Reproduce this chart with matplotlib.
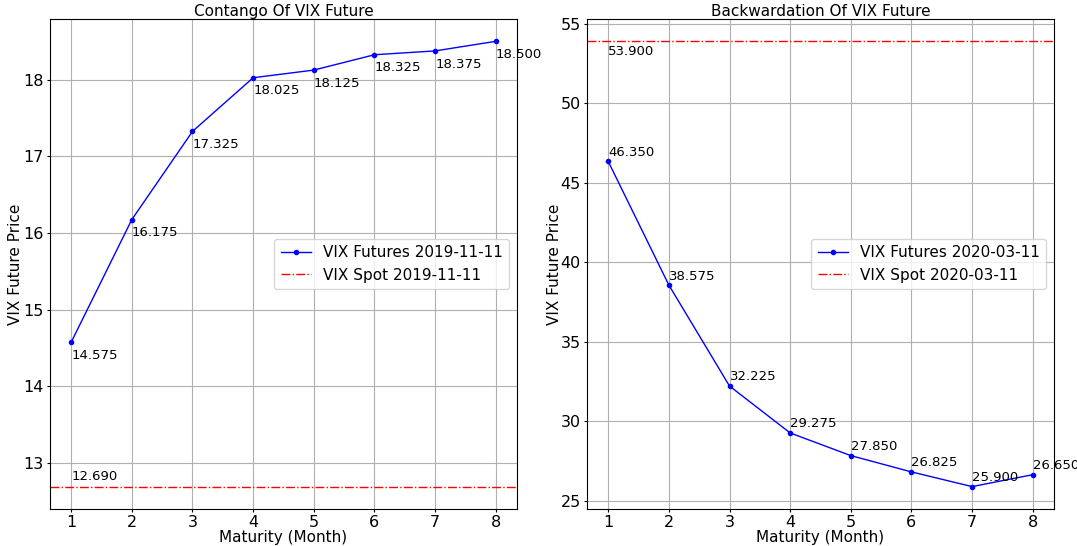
import matplotlib
matplotlib.use("Agg")
import matplotlib.pyplot as plt

maturity = [1, 2, 3, 4, 5, 6, 7, 8]
contango = [14.575, 16.175, 17.325, 18.025, 18.125, 18.325, 18.375, 18.500]
backward = [46.350, 38.575, 32.225, 29.275, 27.850, 26.825, 25.900, 26.650]
spot_contango = 12.690
spot_backward = 53.900

fig, axes = plt.subplots(1, 2, figsize=(10.77, 5.46), dpi=100)

ax = axes[0]
ax.plot(maturity, contango, 'b.-', lw=1, ms=6, label='VIX Futures 2019-11-11')
ax.axhline(spot_contango, color='red', ls='-.', lw=1, label='VIX Spot 2019-11-11')
for x, y in zip(maturity, contango):
    ax.annotate(f'{y:.3f}', (x, y), xytext=(0, -12), textcoords='offset points', fontsize=9.5)
ax.annotate(f'{spot_contango:.3f}', (1, spot_contango), xytext=(0, 5), textcoords='offset points', fontsize=9.5)
ax.set_title('Contango Of VIX Future', fontsize=11, pad=2)
ax.set_xlabel('Maturity (Month)', fontsize=11, labelpad=0)
ax.set_ylabel('VIX Future Price', fontsize=11)
ax.yaxis.set_label_coords(-0.058, 0.5)
ax.set_ylim(min(contango + [spot_contango]) - 0.29, max(contango) + 0.29)
ax.set_xticks(maturity)
ax.tick_params(labelsize=11.5, pad=2, length=2.5)
ax.grid(True)
ax.legend(loc='center right', fontsize=11)

ax = axes[1]
ax.plot(maturity, backward, 'b.-', lw=1, ms=6, label='VIX Futures 2020-03-11')
ax.axhline(spot_backward, color='red', ls='-.', lw=1, label='VIX Spot 2020-03-11')
for x, y in zip(maturity, backward):
    ax.annotate(f'{y:.3f}', (x, y), xytext=(0, 4), textcoords='offset points', fontsize=9.5)
ax.annotate(f'{spot_backward:.3f}', (1, spot_backward), xytext=(0, -10), textcoords='offset points', fontsize=9.5)
ax.set_title('Backwardation Of VIX Future', fontsize=11, pad=2)
ax.set_xlabel('Maturity (Month)', fontsize=11, labelpad=0)
ax.set_ylabel('VIX Future Price', fontsize=11)
ax.yaxis.set_label_coords(-0.0535, 0.5)
ax.set_ylim(min(backward) - 1.4, spot_backward + 1.4)
ax.set_xticks(maturity)
ax.tick_params(labelsize=11.5, pad=2, length=2.5)
ax.grid(True)
ax.legend(loc='center right', fontsize=11)

fig.subplots_adjust(left=0.0464, right=0.9786, top=0.965, bottom=0.068, wspace=0.15)
fig.savefig('out.png', dpi=100)
